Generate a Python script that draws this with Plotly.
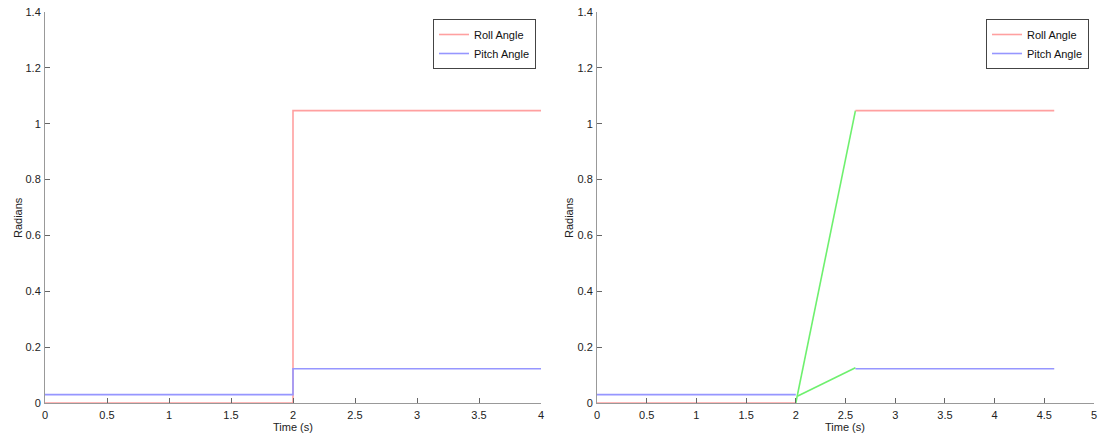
import plotly.graph_objects as go

# Left panel: step response
t_left = [0, 2, 2, 4]
roll_left = [0, 0, 1.047, 1.047]
pitch_left = [0.03, 0.03, 0.1225, 0.1225]

# Right panel: ramped response
t_right_before = [0, 2.0]
roll_right_before = [0, 0]
pitch_right_before = [0.03, 0.03]
t_right_after = [2.6, 4.6]
roll_right_after = [1.047, 1.047]
pitch_right_after = [0.1225, 0.1225]
t_roll_ramp = [2.0, 2.6]
roll_ramp = [0, 1.047]
t_pitch_ramp = [2.02, 2.6]
pitch_ramp = [0.025, 0.126]

RED = "rgb(255,160,160)"
BLUE = "rgb(150,150,255)"
GREEN = "rgb(110,240,110)"
W = 1.6

fig = go.Figure()
fig.add_trace(go.Scatter(x=t_left, y=roll_left, mode="lines", name="Roll Angle",
                         line=dict(color=RED, width=W), xaxis="x", yaxis="y", legend="legend"))
fig.add_trace(go.Scatter(x=t_left, y=pitch_left, mode="lines", name="Pitch Angle",
                         line=dict(color=BLUE, width=W), xaxis="x", yaxis="y", legend="legend"))

fig.add_trace(go.Scatter(x=t_roll_ramp, y=roll_ramp, mode="lines", showlegend=False,
                         line=dict(color=GREEN, width=W), xaxis="x2", yaxis="y2"))
fig.add_trace(go.Scatter(x=t_pitch_ramp, y=pitch_ramp, mode="lines", showlegend=False,
                         line=dict(color=GREEN, width=W), xaxis="x2", yaxis="y2"))
fig.add_trace(go.Scatter(x=t_right_before, y=roll_right_before, mode="lines", name="Roll Angle",
                         line=dict(color=RED, width=W), xaxis="x2", yaxis="y2", legend="legend2"))
fig.add_trace(go.Scatter(x=t_right_before, y=pitch_right_before, mode="lines", name="Pitch Angle",
                         line=dict(color=BLUE, width=W), xaxis="x2", yaxis="y2", legend="legend2"))
fig.add_trace(go.Scatter(x=t_right_after, y=roll_right_after, mode="lines", showlegend=False,
                         line=dict(color=RED, width=W), xaxis="x2", yaxis="y2"))
fig.add_trace(go.Scatter(x=t_right_after, y=pitch_right_after, mode="lines", showlegend=False,
                         line=dict(color=BLUE, width=W), xaxis="x2", yaxis="y2"))

FW, FH = 1103, 436
PL, PR, PT, PB = 45, 1094, 12, 403   # plot-area bounds in window pixels
ML, MR, MT, MB = PL, FW - PR, PT, FH - PB
PW = FW - ML - MR
PH = FH - MT - MB


def px(xw):
    return (xw - ML) / PW


def py(yw):
    return (FH - MB - yw) / PH


font = dict(family="Liberation Sans, Arial, sans-serif", size=11, color="#222")

axis_common = dict(showline=True, linecolor="#999", linewidth=1, ticks="inside", ticklen=5,
                   tickcolor="#666", showgrid=False, zeroline=False, mirror=False,
                   tickfont=dict(size=11, color="#222"), automargin=False,
                   ticklabeloverflow="allow")

fig.update_layout(
    width=FW, height=FH,
    margin=dict(l=ML, r=MR, t=MT, b=MB, autoexpand=False),
    paper_bgcolor="white", plot_bgcolor="white",
    font=font,
    xaxis=dict(domain=[px(45), px(541)], range=[0, 4], dtick=0.5, anchor="y",
               ticklabelstandoff=2, **axis_common),
    yaxis=dict(domain=[0, 1], range=[0, 1.4], dtick=0.2, anchor="x",
               ticklabelstandoff=1, **axis_common),
    xaxis2=dict(domain=[px(597), px(1094)], range=[0, 5], dtick=0.5, anchor="y2",
                ticklabelstandoff=2, **axis_common),
    yaxis2=dict(domain=[0, 1], range=[0, 1.4], dtick=0.2, anchor="x2",
                ticklabelstandoff=1, **axis_common),
    legend=dict(x=px(536), y=py(19), xanchor="right", yanchor="top",
                bordercolor="#444", borderwidth=1, bgcolor="white",
                font=dict(size=11, color="#111"), tracegroupgap=0, itemwidth=30),
    legend2=dict(x=px(1089), y=py(19), xanchor="right", yanchor="top",
                 bordercolor="#444", borderwidth=1, bgcolor="white",
                 font=dict(size=11, color="#111"), tracegroupgap=0, itemwidth=30),
)

# Axis titles as annotations for exact placement
titles = [
    ("Time (s)", px(293), py(427), 0),
    ("Time (s)", px(845), py(427), 0),
    ("Radians", px(18), py(218), -90),
    ("Radians", px(569), py(218), -90),
]
for text, x, y, ang in titles:
    fig.add_annotation(text=text, x=x, y=y, xref="paper", yref="paper",
                       xanchor="center", yanchor="middle", showarrow=False,
                       textangle=ang, font=dict(size=11, color="#222"))

fig.write_html("out.html", config={"displayModeBar": False},
               post_script="document.body.style.margin='0';")
